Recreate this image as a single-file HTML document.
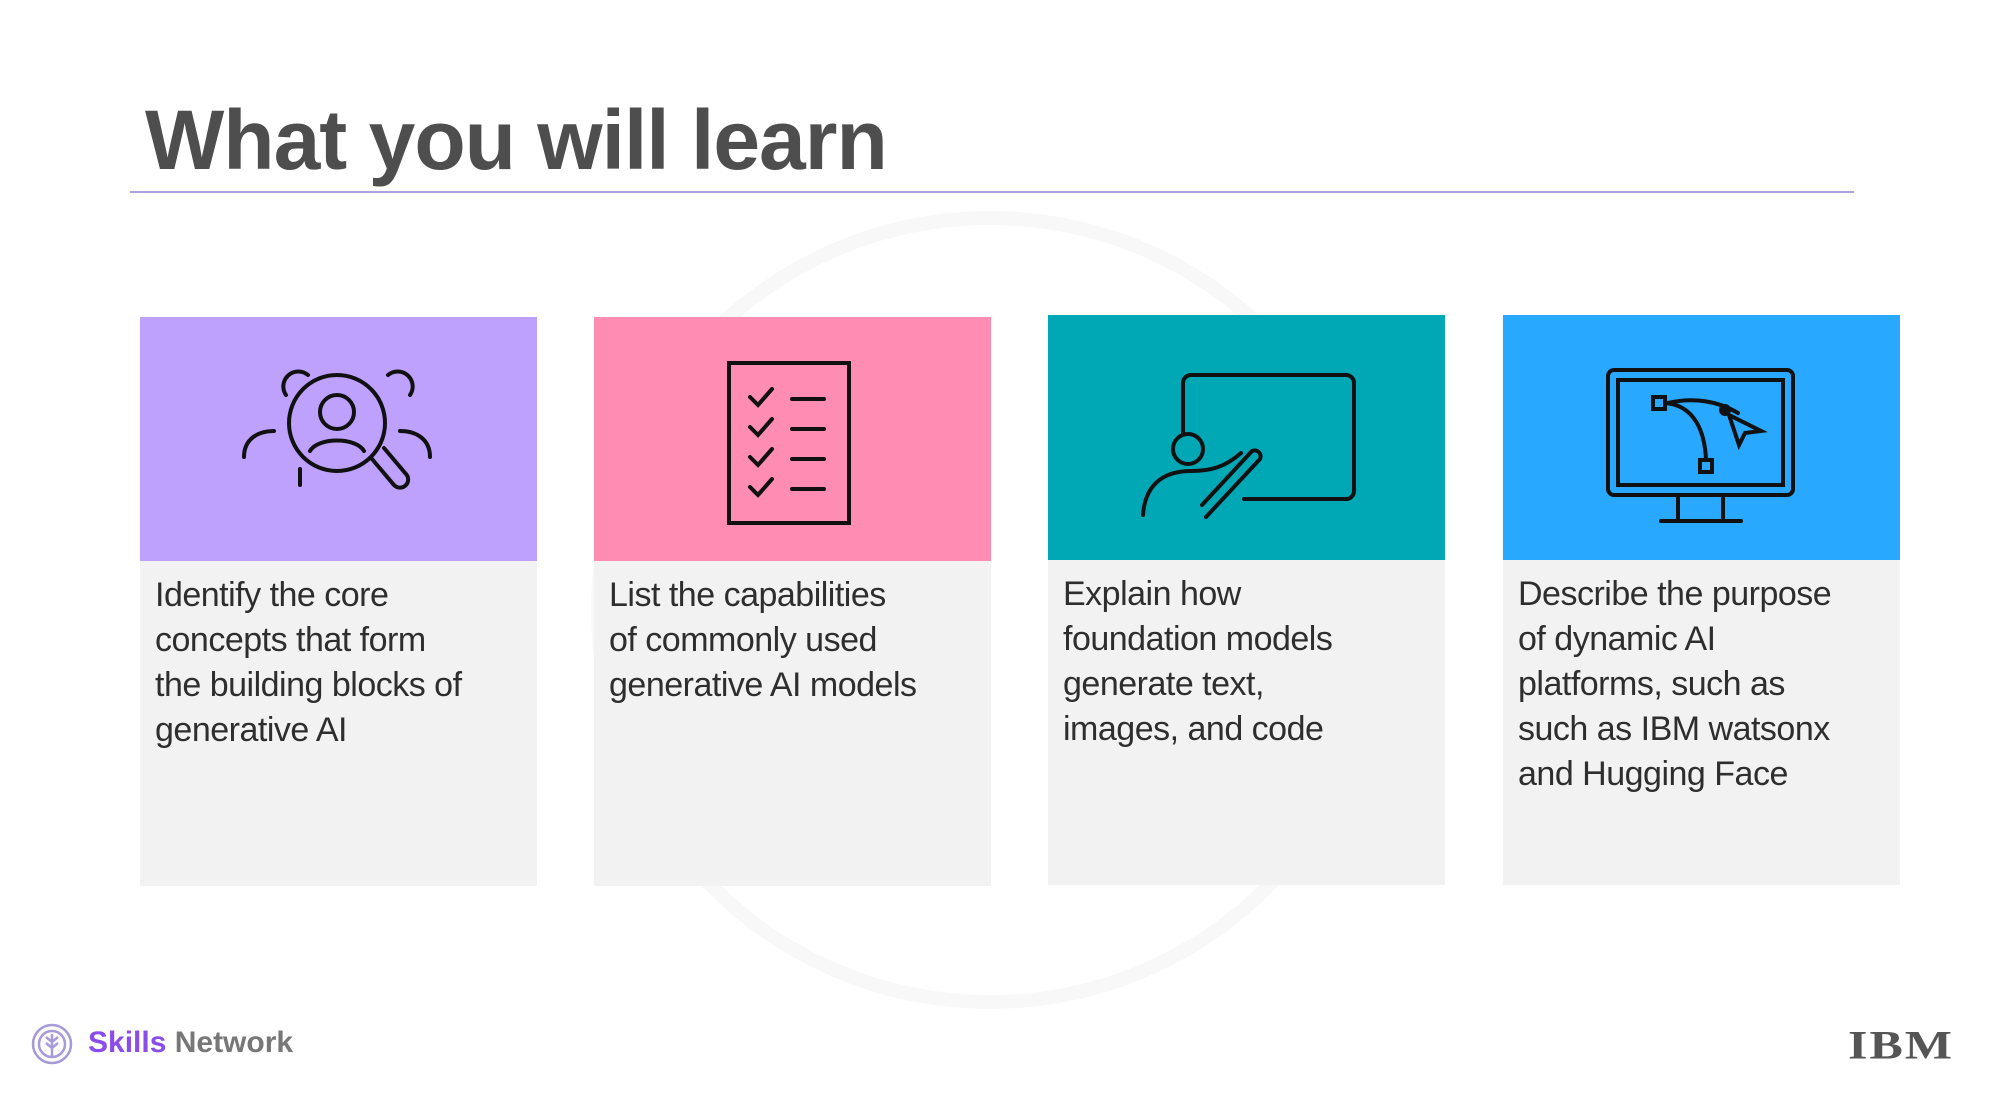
<!DOCTYPE html>
<html><head><meta charset="utf-8"><style>
body{margin:0;width:1990px;height:1100px;background:#fff;position:relative;overflow:hidden;font-family:"Liberation Sans",sans-serif}
.t{position:absolute;left:145px;top:92px;font-size:84px;font-weight:bold;color:#4e4e4e;letter-spacing:-1px}
.line{position:absolute;left:130px;top:191px;width:1724px;height:2px;background:#a9a2e0}
.card{position:absolute;width:397px;background:#f2f2f2}
.top{height:244px;position:relative}
.txt{padding:12px 15px 0 15px;font-size:34px;line-height:45px;color:#2e2e2e;letter-spacing:-0.5px;white-space:nowrap}
svg.ic{position:absolute;left:0;top:0}
</style></head><body>
<svg style="position:absolute;left:0;top:0" width="1990" height="1100"><circle cx="990" cy="610" r="392" fill="none" stroke="#f8f8f8" stroke-width="14"/></svg>
<div class="t">What you will learn</div>
<div class="line"></div>

<div class="card" style="left:140px;top:317px;height:569px">
<div class="top" style="background:#bea0fd">
<svg class="ic" width="400" height="245" fill="none" stroke="#111" stroke-width="4" stroke-linecap="round">
<circle cx="197" cy="106" r="48"/><circle cx="197" cy="95" r="17"/><path d="M170 134c8-14 46-14 54 0"/>
<path d="M232 142l22 26a8 8 0 0 0 12-11l-22-26"/>
<path d="M146 78a15 15 0 0 1 22-20"/><path d="M248 58a15 15 0 0 1 22 20"/>
<path d="M104 140c0-18 14-26 30-26"/><path d="M290 140c0-18-14-26-30-26"/><path d="M160 152v16"/>
</svg></div>
<div class="txt">Identify the core<br>concepts that form<br>the building blocks of<br>generative AI</div></div>

<div class="card" style="left:594px;top:317px;height:569px">
<div class="top" style="background:#ff8db3">
<svg class="ic" width="400" height="245" fill="none" stroke="#111" stroke-width="4" stroke-linecap="round">
<rect x="135" y="46" width="120" height="160"/>
<path d="M156 80l8 8 14-16M156 110l8 8 14-16M156 140l8 8 14-16M156 170l8 8 14-16"/>
<path d="M198 82h32M198 112h32M198 142h32M198 172h32"/>
</svg></div>
<div class="txt">List the capabilities<br>of commonly used<br>generative AI models</div></div>

<div class="card" style="left:1048px;top:315px;height:570px">
<div class="top" style="background:#00a8b6;height:245px">
<svg class="ic" width="400" height="247" fill="none" stroke="#111" stroke-width="4" stroke-linecap="round">
<path d="M135 118V68a8 8 0 0 1 8-8h155a8 8 0 0 1 8 8v108a8 8 0 0 1-8 8H196"/>
<circle cx="140" cy="134" r="15"/>
<path d="M95 200c2-30 20-44 48-44 20 0 34-4 50-18"/>
<path d="M158 202l54-58a6 6 0 0 0-8-8l-50 54"/>
</svg></div>
<div class="txt">Explain how<br>foundation models<br>generate text,<br>images, and code</div></div>

<div class="card" style="left:1503px;top:315px;height:570px">
<div class="top" style="background:#29a8ff;height:245px">
<svg class="ic" width="400" height="247" fill="none" stroke="#111" stroke-width="4" stroke-linecap="round">
<rect x="105" y="55" width="185" height="125" rx="6"/><rect x="115" y="65" width="165" height="105"/>
<path d="M175 180v24M220 180v24M158 206h80"/>
<rect x="150" y="82" width="12" height="12"/><rect x="197" y="145" width="12" height="12"/>
<path d="M162 88c30 2 40 30 41 57"/><path d="M165 88c25-6 50-2 70 10"/><circle cx="222" cy="95" r="4" fill="#111"/>
<path d="M226 100l10 30 6-12 16-2z"/>
</svg></div>
<div class="txt">Describe the purpose<br>of dynamic AI<br>platforms, such as<br>such as IBM watsonx<br>and Hugging Face</div></div>

<svg style="position:absolute;left:30px;top:1022px" width="44" height="44" fill="none" stroke="#a79ad8" stroke-width="2.5"><circle cx="22" cy="22" r="19"/><circle cx="22" cy="22" r="13"/><path d="M22 12v22M22 20l-6-5M22 20l6-5M22 26l-6-5M22 26l6-5"/></svg>
<div style="position:absolute;left:88px;top:1026px;font-size:30px;font-weight:bold;color:#8a4dea">Skills <span style="color:#777">Network</span></div>
<div style="position:absolute;left:1848px;top:1016px;font-family:'Liberation Serif',serif;font-size:50px;font-weight:bold;color:#555;letter-spacing:2px;transform:scaleY(0.8)">IBM</div>
</body></html>
